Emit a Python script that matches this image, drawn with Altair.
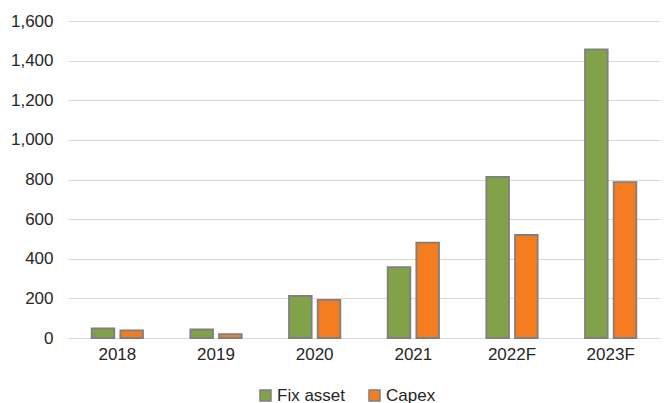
import altair as alt
import pandas as pd

years = ["2018", "2019", "2020", "2021", "2022F", "2023F"]
fix_asset = [48, 43, 212, 358, 813, 1457]
capex = [38, 20, 192, 481, 520, 787]
series = ["Fix asset", "Capex"]

rows = []
for i, y in enumerate(years):
    rows.append({"year": y, "series": "Fix asset", "value": fix_asset[i]})
    rows.append({"year": y, "series": "Capex", "value": capex[i]})
df = pd.DataFrame(rows)

font = "Liberation Sans"

chart = alt.Chart(df).mark_bar(stroke="#7F7F7F", strokeWidth=1.8).encode(
    x=alt.X("year:N", sort=years, title=None,
            scale=alt.Scale(paddingInner=0.48, paddingOuter=0.24),
            axis=alt.Axis(labelAngle=0, ticks=False, labelPadding=8,
                          domainColor="#D9D9D9", domainWidth=1)),
    xOffset=alt.XOffset("series:N", sort=series,
                        scale=alt.Scale(paddingInner=0.21)),
    y=alt.Y("value:Q", title=None,
            scale=alt.Scale(domain=[0, 1600], nice=False),
            axis=alt.Axis(values=list(range(0, 1601, 200)), format=",.0f",
                          ticks=False, domain=False, labelPadding=15,
                          gridColor="#D9D9D9", gridWidth=1)),
    color=alt.Color("series:N", sort=series, title=None,
                    scale=alt.Scale(domain=series, range=["#82A24A", "#F57D1F"]),
                    legend=alt.Legend(orient="none", direction="horizontal",
                                      legendX=189, legendY=366,
                                      symbolType="square", symbolSize=121,
                                      symbolStrokeColor="#7F7F7F", symbolStrokeWidth=1.5,
                                      labelFontSize=17, labelFont=font, labelColor="#262626",
                                      labelOffset=3, columnPadding=20)),
).properties(
    width=592, height=317,
    autosize=alt.AutoSizeParams(type="none"),
    padding={"left": 68, "top": 21, "right": 4, "bottom": 65},
).configure_axis(
    labelFont=font, labelFontSize=17, labelColor="#262626"
).configure_view(stroke=None)

chart.save("out.html", embed_options={"renderer": "svg", "actions": False})
